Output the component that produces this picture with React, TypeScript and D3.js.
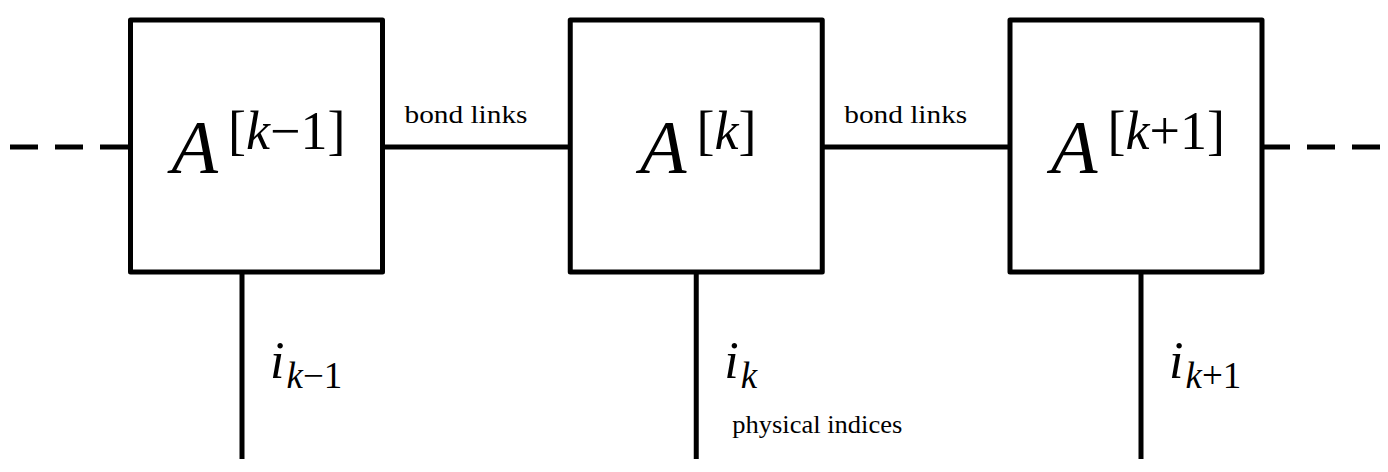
import React from "react";
import * as d3 from "d3";

// sites of the tensor train, left to right
const sites = [0, 1, 2];
const superscripts = ["k−1", "k", "k+1"];
const subscripts = ["k−1", "k", "k+1"];
// horizontal shift of each physical leg away from the box centre
const legShift = [-14.5, 0, 5];
const bondLabel = "bond links";
const physicalLabel = "physical indices";

const W = 1388;
const H = 472;
const BOX = 252;
const STROKE = 5;
const SERIF = "Liberation Serif";

export default function App() {
  const x = d3.scaleLinear().domain([0, 2]).range([256.5, 1136]);
  const y = d3.scaleLinear().domain([0, 1]).range([20, 20 + BOX]);
  const bondY = 147;
  const legBottom = 459;

  const left = (i: number) => x(i) - BOX / 2;
  const right = (i: number) => x(i) + BOX / 2;

  return (
    <svg
      width={W}
      height={H}
      viewBox={`0 0 ${W} ${H}`}
      style={{ position: "absolute", left: 0, top: 0, background: "#fff" }}
    >
      <g stroke="#000" strokeWidth={STROKE} fill="none">
        {/* open ends */}
        <line
          x1={10}
          x2={left(0)}
          y1={bondY}
          y2={bondY}
          strokeDasharray="28 17"
        />
        <line
          x1={right(2)}
          x2={1380}
          y1={bondY}
          y2={bondY}
          strokeDasharray="28 17"
        />

        {/* bond links between neighbouring tensors */}
        {d3.pairs(sites).map(([a, b]) => (
          <line
            key={`bond-${a}`}
            x1={right(a)}
            x2={left(b)}
            y1={bondY}
            y2={bondY}
          />
        ))}

        {/* physical legs */}
        {sites.map((s) => (
          <line
            key={`leg-${s}`}
            x1={x(s) + legShift[s]}
            x2={x(s) + legShift[s]}
            y1={y(1)}
            y2={legBottom}
          />
        ))}

        {/* tensors */}
        {sites.map((s) => (
          <rect
            key={`box-${s}`}
            x={left(s)}
            y={y(0)}
            width={BOX}
            height={y(1) - y(0)}
            strokeLinejoin="round"
            fill="#fff"
          />
        ))}
      </g>

      {/* tensor names */}
      {sites.map((s) => (
        <text
          key={`name-${s}`}
          x={x(s) + 2}
          y={173}
          textAnchor="middle"
          style={{ fontFamily: SERIF }}
          fill="#000"
        >
          <tspan fontStyle="italic" fontSize={76}>
            A
          </tspan>
          <tspan fontSize={54} dx={10} dy={-24}>
            [
          </tspan>
          <tspan fontSize={54} fontStyle="italic">
            k
          </tspan>
          <tspan fontSize={54}>{superscripts[s].slice(1)}]</tspan>
        </text>
      ))}

      {/* index names */}
      {sites.map((s) => (
        <text
          key={`idx-${s}`}
          x={x(s) + legShift[s] + 28}
          y={378}
          style={{ fontFamily: SERIF }}
          fill="#000"
        >
          <tspan fontStyle="italic" fontSize={52}>
            i
          </tspan>
          <tspan fontSize={37} dx={2} dy={10} fontStyle="italic">
            k
          </tspan>
          <tspan fontSize={37}>{subscripts[s].slice(1)}</tspan>
        </text>
      ))}

      {/* annotations */}
      {d3.pairs(sites).map(([a]) => (
        <text
          key={`bl-${a}`}
          x={right(a) + 22}
          y={123}
          style={{ fontFamily: SERIF }}
          fontSize={25}
          textLength={123}
          lengthAdjust="spacingAndGlyphs"
          fill="#000"
        >
          {bondLabel}
        </text>
      ))}
      <text
        x={x(1) + 36}
        y={433}
        style={{ fontFamily: SERIF }}
        fontSize={25}
        textLength={170}
        lengthAdjust="spacingAndGlyphs"
        fill="#000"
      >
        {physicalLabel}
      </text>
    </svg>
  );
}
